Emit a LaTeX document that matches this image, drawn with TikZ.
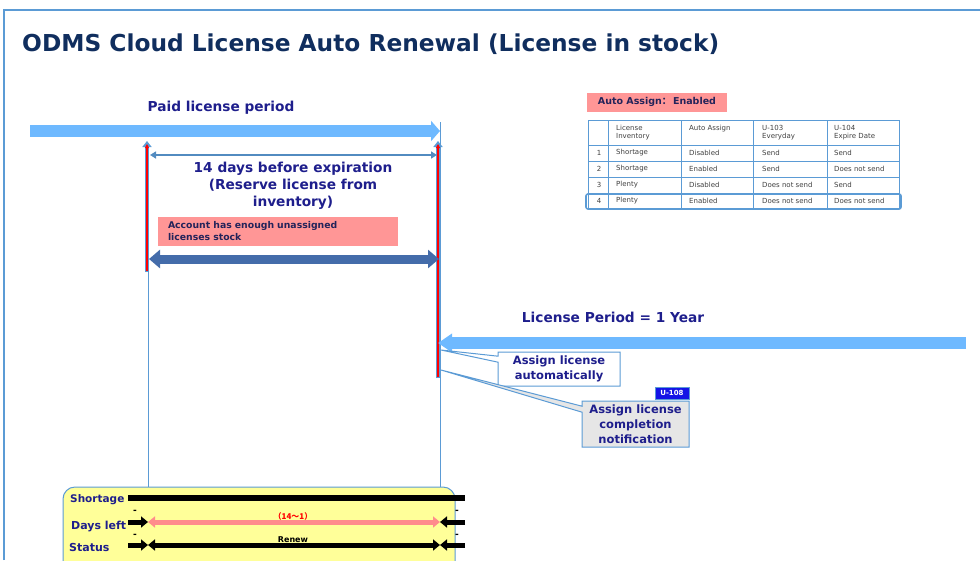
\documentclass[tikz,border=0pt]{standalone}
\usepackage{fontspec}
\setmainfont{DejaVu Sans}
\newfontfamily\cjk{Noto Sans CJK SC}
\usetikzlibrary{arrows.meta, shapes.callouts}

\definecolor{framecol}{RGB}{91,155,213}
\definecolor{titlecol}{RGB}{16,46,94}
\definecolor{navy}{RGB}{30,30,140}
\definecolor{skyarrow}{RGB}{110,185,255}
\definecolor{darkarrow}{RGB}{68,108,170}
\definecolor{pinkbox}{RGB}{255,150,150}
\definecolor{pinkbar}{RGB}{255,140,140}
\definecolor{notecol}{RGB}{35,35,90}
\definecolor{yellowbox}{RGB}{255,255,153}
\definecolor{tabtext}{RGB}{64,64,64}
\definecolor{tagblue}{RGB}{20,20,230}
\definecolor{greybox}{RGB}{230,230,230}

\newcommand{\fsz}[2]{\fontsize{#1}{#2}\selectfont}

\begin{document}
\begin{tikzpicture}[x=1pt, y=-1pt,
  every node/.style={inner sep=0pt},
  heading/.style={font=\bfseries\fsz{13.7}{17}, text=navy, align=center},
  skyline/.style={line width=12pt, skyarrow},
  thinline/.style={framecol, line width=0.8pt},
  tabline/.style={framecol, line width=1pt},
  tabcell/.style={font=\fsz{7}{8}, text=tabtext, align=left},
  calloutbox/.style={rectangle callout, draw=framecol, line width=1pt, text=navy,
    font=\bfseries\fsz{11.5}{15}, align=center, callout pointer width=6pt},
  rowlabel/.style={font=\bfseries\fsz{11}{13}, text=navy},
  tick/.style={font=\bfseries\fsz{9}{10}},
  blackbar/.style={line width=5pt, black},
  tip/.style={-{Triangle[width=11pt,length=7pt]}}
]
  \clip (0,0) rectangle (980,560);

  % frame and title
  \draw[framecol, line width=1.2pt] (4,560) -- (4,10) -- (980,10);
  \node[anchor=base west, font=\bfseries\fsz{23.3}{28}, text=titlecol] (title) at (22,51)
    {ODMS Cloud License Auto Renewal (License in stock)};

  % paid license period
  \node[heading, anchor=base] (paid) at (221,111) {Paid license period};
  \coordinate (paidS) at (30,131);
  \coordinate (paidE) at (440,131);
  \draw[skyline, -{Triangle[width=20pt,length=9pt]}] (paidS) -- (paidE);

  % time lines
  \draw[thinline] (148,143) -- (148,490);
  \draw[thinline] (440,122) -- (440,490);
  \draw[framecol, line width=4pt, -{Triangle[width=9pt,length=6pt]}] (147,272) -- (147,141);
  \draw[red, line width=1.1pt, -{Triangle[width=4pt,length=4pt]}] (147,271) -- (147,144);
  \draw[framecol, line width=4pt, -{Triangle[width=9pt,length=6pt]}] (438,378) -- (438,141);
  \draw[red, line width=1.1pt, -{Triangle[width=4pt,length=4pt]}] (438,377) -- (438,144);

  % 14 days before expiration
  \coordinate (resS) at (150,155);
  \coordinate (resE) at (437,155);
  \draw[framecol!90!black, line width=2pt, {Triangle[width=7pt,length=6pt]}-{Triangle[width=7pt,length=6pt]}] (resS) -- (resE);
  \node[heading, anchor=north] (reserve) at (293,162)
    {14 days before expiration\\(Reserve license from\\inventory)};
  \node[fill=pinkbox, minimum width=240pt, minimum height=29pt, text width=220pt, align=left,
    font=\bfseries\fsz{9.3}{12}, text=notecol] (stock) at (278,231.5)
    {Account has enough unassigned\\licenses stock};
  \coordinate (stockS) at (149,259);
  \coordinate (stockE) at (439,259);
  \draw[darkarrow, line width=9pt, {Triangle[width=18pt,length=11pt]}-{Triangle[width=18pt,length=11pt]}] (stockS) -- (stockE);

  % license period
  \node[heading, anchor=base] (period) at (613,322) {License Period = 1 Year};
  \coordinate (periodS) at (966,343);
  \coordinate (periodE) at (438,343);
  \draw[skyline, -{Triangle[width=18pt,length=14pt]}] (periodS) -- (periodE);

  % callouts
  \coordinate (tipA) at (441,350);
  \coordinate (tipB) at (441,370);
  \node[calloutbox, fill=white, minimum width=122pt, minimum height=34pt,
    callout absolute pointer={(tipA)}] (assign) at (559,369) {Assign license\\automatically};
  \node[calloutbox, fill=greybox, minimum width=107pt, minimum height=46pt,
    callout absolute pointer={(tipB)}] (notify) at (635.5,424) {Assign license\\completion\\notification};
  \node[fill=tagblue, draw=framecol, minimum width=34pt, minimum height=12pt,
    font=\bfseries\fsz{7}{8}, text=white] (u108) at (672,393) {U-108};

  % auto assign table
  \node[fill=pinkbox, minimum width=140pt, minimum height=19pt,
    font=\bfseries\fsz{9.5}{11}, text=notecol] (mode) at (657,102)
    {Auto Assign{\cjk ：}\,Enabled};
  \foreach \x in {588,608,681,753,827,899}
    \draw[tabline] (\x,120) -- (\x,208);
  \foreach \y in {120,145,161,177,193,208}
    \draw[tabline] (588,\y) -- (899,\y);
  \draw[framecol, line width=1.6pt, rounded corners=2pt] (586,194) rectangle (901,209);
  \node[tabcell, anchor=north west] (h1) at (616,125) {License\\Inventory};
  \node[tabcell, anchor=north west] (h2) at (689,125) {Auto Assign};
  \node[tabcell, anchor=north west] (h3) at (762,125) {U-103\\Everyday};
  \node[tabcell, anchor=north west] (h4) at (834,125) {U-104\\Expire Date};
  \foreach \n/\inv/\auto/\ua/\ub in {1/Shortage/Disabled/Send/Send,
      2/Shortage/Enabled/Send/Does not send,
      3/Plenty/Disabled/Does not send/Send,
      4/Plenty/Enabled/Does not send/Does not send} {
    \pgfmathsetmacro{\yc}{137+16*\n}
    \node[tabcell] (no\n) at (599,\yc) {\n};
    \node[tabcell, anchor=west] (inv\n) at (616,\yc) {\inv};
    \node[tabcell, anchor=west] (auto\n) at (689,\yc) {\auto};
    \node[tabcell, anchor=west] (ua\n) at (762,\yc) {\ua};
    \node[tabcell, anchor=west] (ub\n) at (834,\yc) {\ub};
  }

  % status panel
  \draw[framecol, fill=yellowbox, rounded corners=12pt, line width=1pt] (63,487) rectangle (455,600);
  \node[rowlabel, anchor=base west, font=\bfseries\fsz{10.5}{13}] (lshort) at (70,502) {Shortage};
  \node[rowlabel, anchor=base west] (ldays) at (71,529) {Days left};
  \node[rowlabel, anchor=base west] (lstat) at (69,551) {Status};

  \coordinate (barS) at (128,498);
  \coordinate (barE) at (465,498);
  \draw[line width=6pt, black] (barS) -- (barE);

  \coordinate (daysA) at (128,522);
  \coordinate (daysB) at (148,522);
  \coordinate (daysC) at (440,522);
  \coordinate (daysD) at (465,522);
  \draw[blackbar, tip] (daysA) -- (daysB);
  \draw[pinkbar, line width=5pt, {Triangle[width=11pt,length=7pt]}-{Triangle[width=11pt,length=7pt]}] (daysB) -- (daysC);
  \draw[blackbar, tip] (daysD) -- (daysC);
  \node[font=\bfseries\fsz{8}{9}, text=red] (range) at (293,516) {\cjk （14～1）};
  \node[tick] (m1) at (135,512) {-};
  \node[tick] (m2) at (457,512) {-};

  \coordinate (statA) at (128,545);
  \coordinate (statB) at (148,545);
  \coordinate (statC) at (440,545);
  \coordinate (statD) at (465,545);
  \draw[blackbar, tip] (statA) -- (statB);
  \draw[blackbar, {Triangle[width=11pt,length=7pt]}-{Triangle[width=11pt,length=7pt]}] (statB) -- (statC);
  \draw[blackbar, tip] (statD) -- (statC);
  \node[font=\bfseries\fsz{8}{9}] (renew) at (293,540) {Renew};
  \node[tick] (m3) at (135,536) {-};
  \node[tick] (m4) at (457,536) {-};
\end{tikzpicture}
\end{document}
